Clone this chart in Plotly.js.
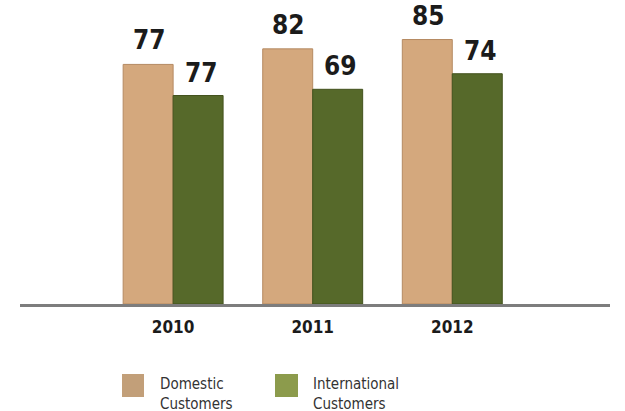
<!DOCTYPE html>
<html>
<head>
<meta charset="utf-8">
<script src="https://cdn.plot.ly/plotly-3.0.1.min.js"></script>
<style>html,body{margin:0;padding:0;background:#fff;}#chart{width:625px;height:411px;}
#chart text{font-stretch:condensed;}</style>
</head>
<body>
<div id="chart"></div>
<script>
const categories = ['2010', '2011', '2012'];
const domesticValues = [77, 82, 85];
const internationalValues = [67, 69, 74];
const domesticLabels = ['77', '82', '85'];
const internationalLabels = ['77', '69', '74'];
const seriesNames = ['Domestic<br>Customers', 'International<br>Customers'];

const domColor = '#D4A87D';
const intColor = '#56692A';
const fam = '"DejaVu Sans Condensed", "Liberation Sans Narrow", "DejaVu Sans", sans-serif';
const boldFont = {family: fam, size: 26, color: '#1b1b1b', weight: 'bold'};

const traces = [
  {type: 'bar', x: categories, y: domesticValues, name: 'Domestic', marker: {color: domColor, line: {color: '#B58A62', width: 1}}, hoverinfo: 'none'},
  {type: 'bar', x: categories, y: internationalValues, name: 'International', marker: {color: intColor, line: {color: '#43521d', width: 1}}, hoverinfo: 'none'}
];

const annotations = [];
categories.forEach((c, i) => {
  annotations.push({x: i, y: domesticValues[i], xref: 'x', yref: 'y', text: domesticLabels[i], showarrow: false, xanchor: 'center', yanchor: 'bottom', xshift: -24, yshift: 7, font: boldFont});
  annotations.push({x: i, y: internationalValues[i], xref: 'x', yref: 'y', text: internationalLabels[i], showarrow: false, xanchor: 'center', yanchor: 'bottom', xshift: 28, yshift: 6, font: boldFont});
});
const legendFont = {family: fam, size: 15, color: '#333'};
annotations.push({xref: 'paper', yref: 'paper', x: 0.234, y: -0.296, xanchor: 'left', yanchor: 'middle', align: 'left', text: seriesNames[0], showarrow: false, font: legendFont});
annotations.push({xref: 'paper', yref: 'paper', x: 0.493, y: -0.296, xanchor: 'left', yanchor: 'middle', align: 'left', text: seriesNames[1], showarrow: false, font: legendFont});

const shapes = [
  {type: 'rect', xref: 'paper', yref: 'paper', x0: 0.1729, x1: 0.2102, y0: -0.2303, y1: -0.3059, fillcolor: '#C29F79', line: {width: 0}},
  {type: 'rect', xref: 'paper', yref: 'paper', x0: 0.4322, x1: 0.4712, y0: -0.2303, y1: -0.3059, fillcolor: '#8C9B4C', line: {width: 0}}
];

const layout = {
  width: 625, height: 411,
  margin: {l: 20, r: 15, t: 0, b: 107},
  paper_bgcolor: '#fff', plot_bgcolor: '#fff',
  showlegend: false,
  barmode: 'group', bargap: 0.284, bargroupgap: 0,
  xaxis: {type: 'category', range: [-1.097, 3.13], showline: true, linecolor: '#7d7d7d', linewidth: 3, showgrid: false, zeroline: false,
          ticks: 'outside', ticklen: 6, tickcolor: 'rgba(0,0,0,0)',
          tickfont: {family: fam, size: 17, color: '#1b1b1b', weight: 'bold'}},
  yaxis: {range: [0, 97.7], visible: false, showgrid: false, zeroline: false},
  annotations: annotations,
  shapes: shapes
};

Plotly.newPlot('chart', traces, layout, {staticPlot: true, displayModeBar: false});
</script>
</body>
</html>
